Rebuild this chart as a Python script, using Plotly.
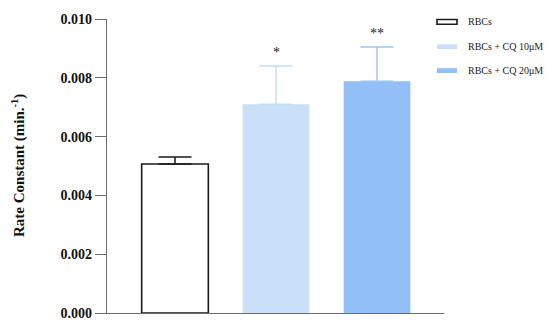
import plotly.graph_objects as go

categories = ["RBCs", "RBCs + CQ 10μM", "RBCs + CQ 20μM"]
values = [0.00507, 0.00710, 0.00788]
errors = [0.00024, 0.00130, 0.00117]
significance = ["", "*", "**"]
fill_colors = ["#ffffff", "#cadff8", "#93bff8"]
line_colors = ["#1a1a1a", "#cadff8", "#93bff8"]
err_colors = ["#1a1a1a", "#c6ddf8", "#9cc5f8"]
y_ticks = [0.000, 0.002, 0.004, 0.006, 0.008, 0.010]

fig = go.Figure()
for i, cat in enumerate(categories):
    fig.add_trace(go.Bar(
        x=[i], y=[values[i]], name=cat, width=0.66,
        marker=dict(color=fill_colors[i], line=dict(color=line_colors[i], width=1.6 if i == 0 else 0)),
        error_y=dict(type="data", symmetric=False, array=[errors[i]], arrayminus=[0],
                     color=err_colors[i], thickness=1.5, width=16.5),
        showlegend=False, hoverinfo="skip",
    ))
    if significance[i]:
        fig.add_annotation(x=i, y=values[i] + errors[i], text=significance[i], showarrow=False,
                           yanchor="bottom", yshift=4,
                           font=dict(family="Liberation Serif", size=14, color="#222222"))

# manual legend
leg_y = [15.7, 41.7, 66.7]
H = 332 - 12.7 - 11.5
W = 550 - 107 - 106
for i, cat in enumerate(categories):
    yc = 1 - (leg_y[i] - 12.7) / H
    x0 = (437 - 107) / W
    x1 = (457 - 107) / W
    fig.add_shape(type="rect", xref="paper", yref="paper", x0=x0, x1=x1,
                  y0=yc - 2.5 / H, y1=yc + 2.5 / H,
                  fillcolor=fill_colors[i],
                  line=dict(color=line_colors[i], width=1.6 if i == 0 else 0))
    fig.add_annotation(xref="paper", yref="paper", x=(466 - 107) / W, y=yc, text=cat,
                       showarrow=False, xanchor="left", yanchor="middle",
                       font=dict(family="Liberation Serif", size=10, color="#222222"))

fig.add_annotation(xref="paper", yref="paper", x=(18 - 107) / W, y=0.5,
                   text="<b>Rate Constant (min.<sup>-1</sup>)</b>", textangle=-90,
                   showarrow=False, xanchor="center", yanchor="middle",
                   font=dict(family="Liberation Serif", size=15, color="#111111"))

fig.update_layout(
    width=550, height=332,
    margin=dict(l=107, r=106, t=12.7, b=11.5),
    paper_bgcolor="white", plot_bgcolor="white",
    xaxis=dict(range=[-0.673, 2.663], showticklabels=False, ticks="", showgrid=False,
               zeroline=False, showline=True, linecolor="#6b6b6b", linewidth=1.2),
    yaxis=dict(range=[0, 0.010], tickvals=y_ticks, tickformat=".3f", ticks="outside",
               ticklen=11, tickcolor="#6b6b6b", tickwidth=1, showgrid=False, zeroline=False,
               showline=True, linecolor="#6b6b6b", linewidth=1.2,
               tickfont=dict(family="Liberation Serif", size=14, color="#111111", weight="bold")),
    font=dict(family="Liberation Serif"),
)
fig.write_html("out.html", config={"displayModeBar": False},
               post_script="document.body.style.margin='0';document.body.style.overflow='hidden';")
